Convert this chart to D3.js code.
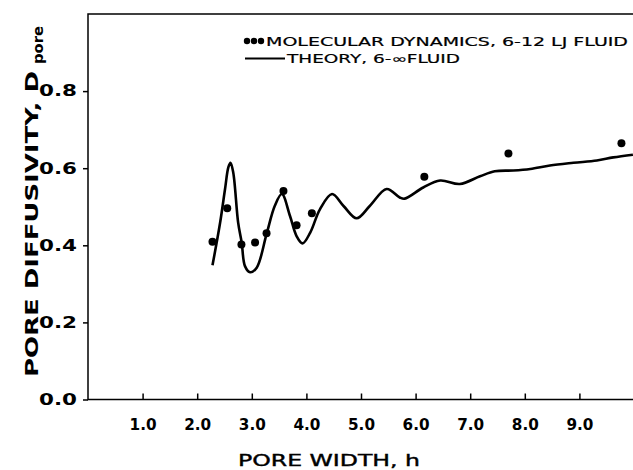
<!DOCTYPE html>
<html>
<head>
<meta charset="utf-8">
<script src="https://cdn.jsdelivr.net/npm/d3@7"></script>
<style>
body { margin: 0; background: #fff; }
text { font-family: "DejaVu Sans", sans-serif; fill: #000; }
</style>
</head>
<body>
<script>
// molecular dynamics points
var mdH = [2.28, 2.55, 2.81, 3.06, 3.27, 3.58, 3.82, 4.10, 6.16, 7.70, 9.77]
var mdD = [0.409, 0.496, 0.402, 0.407, 0.431, 0.541, 0.452, 0.483, 0.578, 0.638, 0.665]

// theory curve
var thH = [2.28, 2.42, 2.51, 2.57, 2.61, 2.66, 2.75, 2.815, 2.875, 2.97, 3.09, 3.27, 3.42, 3.55, 3.70, 3.82, 3.93, 4.07, 4.25, 4.47, 4.68, 4.92, 5.16, 5.47, 5.71, 5.80, 6.14, 6.45, 6.81, 7.18, 7.45, 7.79, 8.10, 8.46, 8.89, 9.32, 9.62, 9.98]
var thD = [0.348, 0.459, 0.546, 0.602, 0.614, 0.589, 0.459, 0.407, 0.346, 0.330, 0.342, 0.429, 0.502, 0.533, 0.476, 0.424, 0.405, 0.433, 0.494, 0.533, 0.502, 0.470, 0.502, 0.546, 0.524, 0.521, 0.550, 0.568, 0.559, 0.579, 0.592, 0.594, 0.598, 0.607, 0.614, 0.620, 0.628, 0.635]

var xTicks = [1, 2, 3, 4, 5, 6, 7, 8, 9]
var yTicks = [0, 0.2, 0.4, 0.6, 0.8]

var legendLabels = ['MOLECULAR DYNAMICS, 6-12 LJ FLUID', 'THEORY, 6-\u221EFLUID']

var width = 633,
	height = 470

var svg = d3.select('body')
	.append('svg')
	.attr('width', width)
	.attr('height', height)

var escalaX = d3.scaleLinear()
	.domain([0, 10])
	.range([88, 634])

var escalaY = d3.scaleLinear()
	.domain([0, 1])
	.range([399.5, 14])

// frame
svg.append('rect')
	.attr('x', escalaX(0))
	.attr('y', escalaY(1))
	.attr('width', escalaX(10) - escalaX(0) + 2)
	.attr('height', escalaY(0) - escalaY(1))
	.attr('fill', 'none')
	.attr('stroke', '#000')
	.attr('stroke-width', 1.5)

var ejeX = d3.axisBottom(escalaX)
	.tickValues(xTicks)
	.tickFormat(d3.format('.1f'))
	.tickSize(-6)
	.tickSizeOuter(0)
	.tickPadding(20)

var ejeY = d3.axisLeft(escalaY)
	.tickValues(yTicks)
	.tickFormat(d3.format('.1f'))
	.tickSize(5)
	.tickSizeOuter(0)
	.tickPadding(6)

var gx = svg.append('g')
	.attr('transform', 'translate(0,' + escalaY(0) + ')')
	.call(ejeX)

var gy = svg.append('g')
	.attr('transform', 'translate(' + escalaX(0) + ',0)')
	.call(ejeY)

svg.selectAll('.domain').remove()
svg.selectAll('.tick line').attr('stroke', '#000').attr('stroke-width', 1.5)

gx.selectAll('text')
	.style('font-family', '"DejaVu Sans", sans-serif')
	.style('font-size', '15px')
	.style('font-weight', 'bold')
	.attr('textLength', 27)
	.attr('lengthAdjust', 'spacingAndGlyphs')

gy.selectAll('text')
	.style('font-family', '"DejaVu Sans", sans-serif')
	.style('font-size', '15px')
	.style('font-weight', 'bold')
	.attr('textLength', 38)
	.attr('lengthAdjust', 'spacingAndGlyphs')

// theory line
var linea = d3.line()
	.x(d => escalaX(d[0]))
	.y(d => escalaY(d[1]))
	.curve(d3.curveCatmullRom)

svg.append('path')
	.datum(d3.zip(thH, thD))
	.attr('d', linea)
	.attr('fill', 'none')
	.attr('stroke', '#000')
	.attr('stroke-width', 2.6)
	.attr('stroke-linejoin', 'round')

svg.append('g')
	.selectAll('circle')
	.data(d3.zip(mdH, mdD)).enter()
	.append('circle')
	.attr('cx', d => escalaX(d[0]))
	.attr('cy', d => escalaY(d[1]))
	.attr('r', 4)
	.attr('fill', '#000')

// legend
var leg = svg.append('g')

leg.selectAll('circle')
	.data([247, 254, 261]).enter()
	.append('circle')
	.attr('cx', d => d)
	.attr('cy', 41)
	.attr('r', 3.2)
	.attr('fill', '#000')

leg.append('line')
	.attr('x1', 245).attr('x2', 285)
	.attr('y1', 58.5).attr('y2', 58.5)
	.attr('stroke', '#000')
	.attr('stroke-width', 2)

leg.append('text')
	.attr('x', 266).attr('y', 45.5)
	.style('font-size', '11.5px')
	.style('stroke', '#000')
	.style('stroke-width', 0.2)
	.attr('textLength', 362)
	.attr('lengthAdjust', 'spacingAndGlyphs')
	.text(legendLabels[0])

leg.append('text')
	.attr('x', 287).attr('y', 62.5)
	.style('font-size', '11.5px')
	.style('stroke', '#000')
	.style('stroke-width', 0.2)
	.attr('textLength', 173)
	.attr('lengthAdjust', 'spacingAndGlyphs')
	.text(legendLabels[1])

// axis titles
svg.append('text')
	.attr('x', 238).attr('y', 466)
	.style('font-size', '16px')
	.style('stroke', '#000')
	.style('stroke-width', 0.4)
	.attr('textLength', 182)
	.attr('lengthAdjust', 'spacingAndGlyphs')
	.text('PORE WIDTH, h')

svg.append('text')
	.attr('transform', 'translate(38,377) rotate(-90)')
	.style('font-size', '18px')
	.style('font-weight', 'bold')
	.attr('textLength', 306)
	.attr('lengthAdjust', 'spacingAndGlyphs')
	.text('PORE DIFFUSIVITY, D')

svg.append('text')
	.attr('transform', 'translate(43,64) rotate(-90)')
	.style('font-size', '14px')
	.style('font-weight', 'bold')
	.attr('textLength', 38)
	.attr('lengthAdjust', 'spacingAndGlyphs')
	.text('pore')
</script>
</body>
</html>
